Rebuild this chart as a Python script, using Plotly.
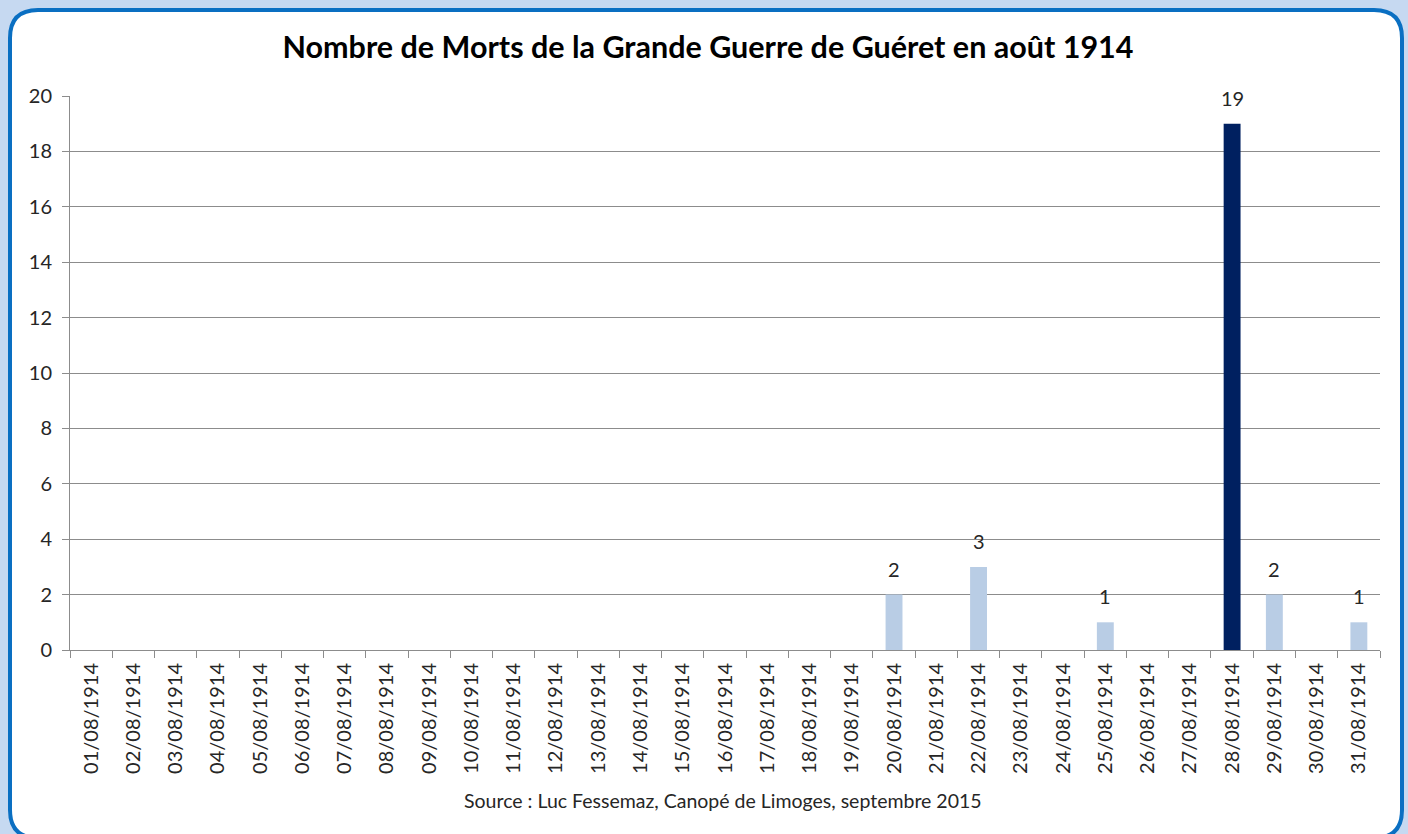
import plotly.graph_objects as go

days = ["%02d/08/1914" % d for d in range(1, 32)]
deaths = [0, 0, 0, 0, 0, 0, 0, 0, 0, 0, 0, 0, 0, 0, 0, 0, 0, 0, 0,
          2, 0, 3, 0, 0, 1, 0, 0, 19, 2, 0, 1]

W, H = 1408, 834
L, R, T, B = 70, 28, 96, 184
PW, PH = W - L - R, H - T - B

def px(x):
    return (x - L) / PW

def py(y):
    return (H - B - y) / PH

light = "#B9CDE5"
dark = "#002060"
colors = [dark if v == max(deaths) else light for v in deaths]

fig = go.Figure()
fig.add_trace(go.Bar(x=days, y=deaths, marker=dict(color=colors, line=dict(width=0)),
                     hoverinfo="x+y"))

# data labels
for d, v in zip(days, deaths):
    if v > 0:
        fig.add_annotation(x=d, y=v, text=str(v), showarrow=False, yanchor="bottom",
                           yshift=12, font=dict(family="Lato", size=20, color="#262626"))

# rounded border
x0, y0, x1, y1, r = 10, 10, 1402, 838, 28
path = (f"M {px(x0+r)},{py(y0)} L {px(x1-r)},{py(y0)} Q {px(x1)},{py(y0)} {px(x1)},{py(y0+r)} "
        f"L {px(x1)},{py(y1-r)} Q {px(x1)},{py(y1)} {px(x1-r)},{py(y1)} "
        f"L {px(x0+r)},{py(y1)} Q {px(x0)},{py(y1)} {px(x0)},{py(y1-r)} "
        f"L {px(x0)},{py(y0+r)} Q {px(x0)},{py(y0)} {px(x0+r)},{py(y0)} Z")
fig.add_shape(type="path", xref="paper", yref="paper", path=path,
              fillcolor="white", line=dict(color="#0A6FC2", width=4), layer="below")

fig.add_annotation(xref="paper", yref="paper", x=px(723), y=py(800),
                   text="Source : Luc Fessemaz, Canopé de Limoges, septembre 2015",
                   showarrow=False, xanchor="center", yanchor="middle",
                   font=dict(family="Lato", size=19.5, color="#262626"))

fig.update_layout(
    width=W, height=H,
    margin=dict(l=L, r=R, t=T, b=B, pad=0),
    paper_bgcolor="#C6D9F1",
    plot_bgcolor="rgba(0,0,0,0)",
    showlegend=False,
    bargap=0.6,
    title=dict(text="<b>Nombre de Morts de la Grande Guerre de Guéret en août 1914</b>",
               xref="container", x=708 / W, xanchor="center",
               yref="container", y=1 - 47 / H, yanchor="middle",
               font=dict(family="Lato", size=30.5, color="#000000")),
    font=dict(family="Lato", color="#262626"),
)
fig.update_yaxes(range=[0, 20], dtick=2, showgrid=True, gridcolor="#8C8C8C", gridwidth=1,
                 showline=True, linecolor="#8C8C8C", linewidth=1,
                 ticks="outside", ticklen=7, tickcolor="#8C8C8C",
                 tickfont=dict(family="Lato", size=20, color="#262626"),
                 ticklabelstandoff=6, zeroline=False, fixedrange=True)
fig.update_xaxes(type="category", tickangle=-90, showline=True, linecolor="#8C8C8C",
                 linewidth=1, ticks="outside", ticklen=7, tickcolor="#8C8C8C",
                 tickson="boundaries", showgrid=False,
                 tickfont=dict(family="Lato", size=20, color="#262626"),
                 ticklabelstandoff=4, fixedrange=True)

fig.write_html("out.html", config={"displayModeBar": False},
               post_script="document.body.style.margin='0';")
